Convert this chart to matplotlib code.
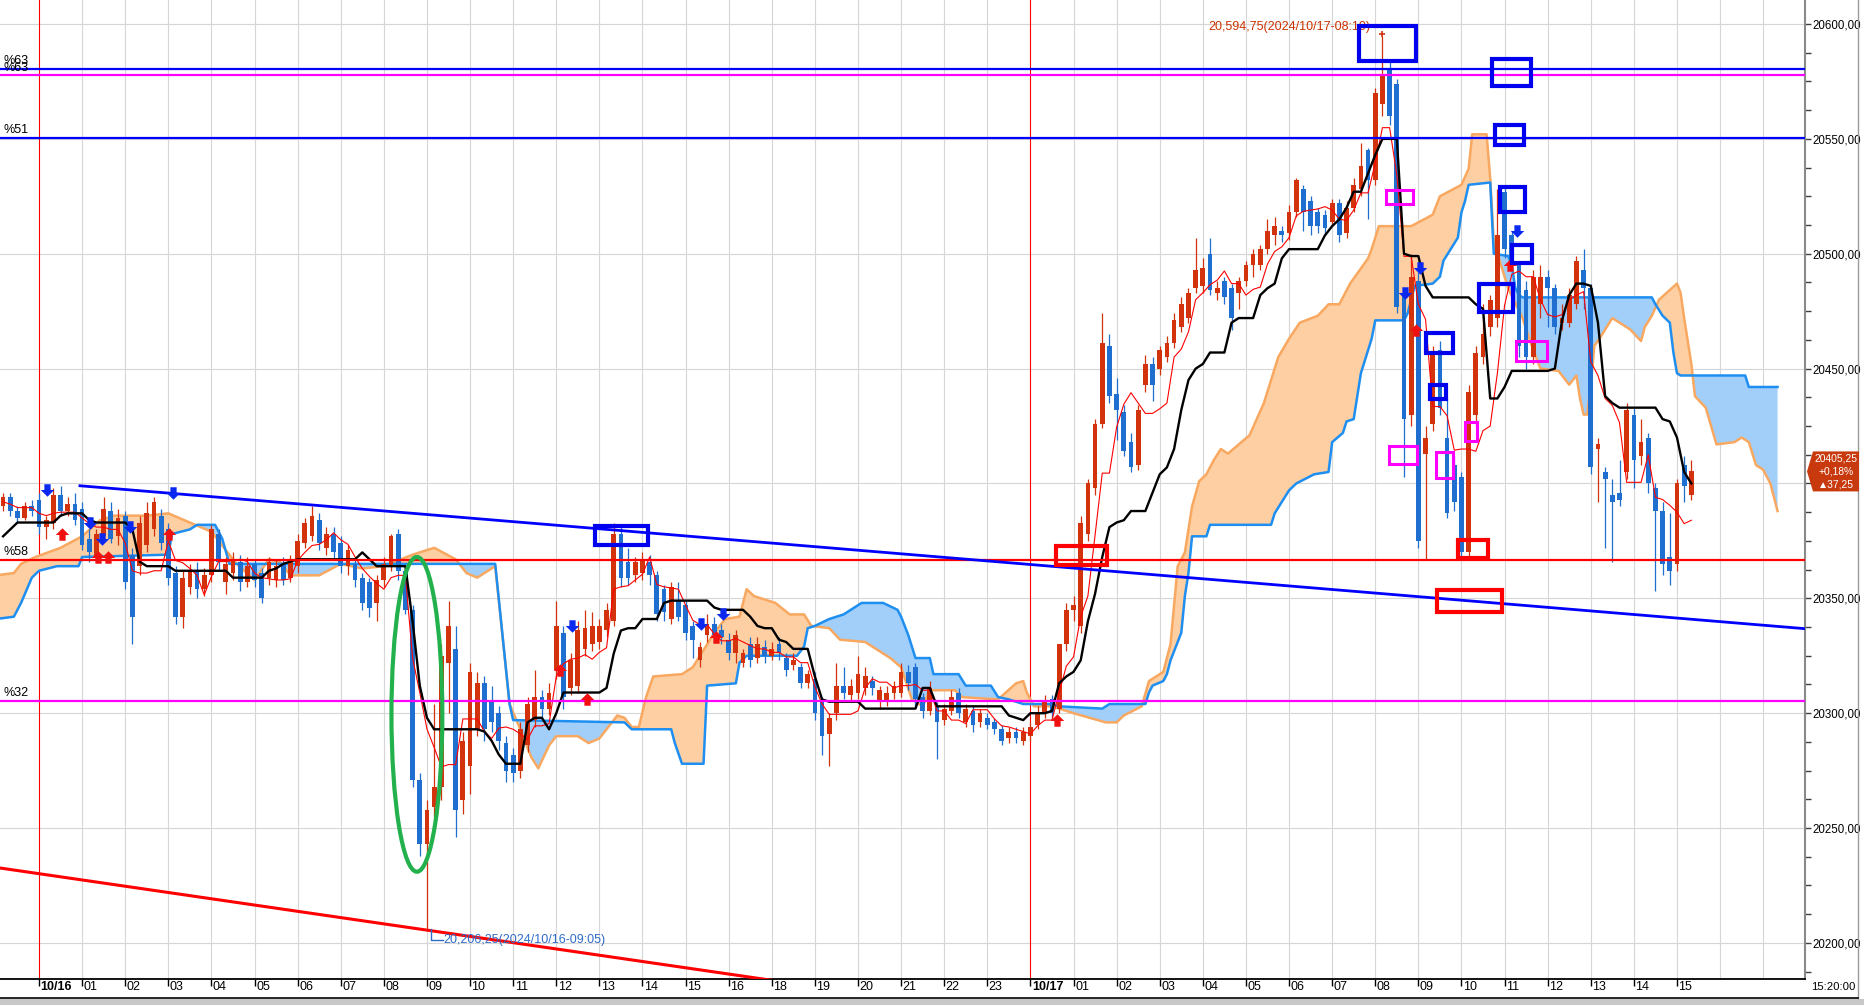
import matplotlib
matplotlib.use('Agg')
import matplotlib.pyplot as plt
from matplotlib.patches import Rectangle, Ellipse, Polygon
from matplotlib.path import Path
import numpy as np
import pandas as pd

plt.rcParams['font.family'] = ['Liberation Sans', 'DejaVu Sans']

# ---------------- data (10-minute bars, 10/15 23:10 .. 10/17 15:20) ----------------
opens = [
    20390, 20394, 20388, 20385, 20390,
    20393, 20381, 20383, 20395, 20388, 20391,
    20389, 20376, 20368, 20377, 20388, 20377,
    20386, 20369, 20364, 20373, 20380, 20386,
    20380, 20361, 20342, 20355, 20362, 20354,
    20360, 20378, 20357, 20361, 20366, 20357,
    20365, 20361, 20359, 20358, 20365, 20359,
    20364, 20374, 20377, 20384, 20372, 20378,
    20374, 20364, 20365, 20359, 20357, 20348,
    20358, 20364, 20378, 20362, 20345, 20271,
    20243, 20259, 20268, 20322, 20328, 20262,
    20277, 20293, 20313, 20305, 20300, 20287,
    20282, 20275, 20286, 20297, 20307, 20302,
    20319, 20335, 20311, 20312, 20328, 20330,
    20331, 20336, 20340, 20378, 20366, 20360,
    20361, 20366, 20360, 20354, 20341, 20349,
    20347, 20338, 20323, 20334, 20339, 20336,
    20332, 20326, 20322, 20330, 20324, 20329,
    20325, 20330, 20324, 20321, 20320, 20313,
    20315, 20305, 20291, 20300, 20312, 20308,
    20309, 20311, 20314, 20305, 20305, 20309,
    20309, 20318, 20320, 20307, 20301, 20303,
    20297, 20301, 20309, 20296, 20301, 20296,
    20298, 20296, 20293, 20289, 20292, 20288,
    20290, 20295, 20300, 20306, 20302, 20330,
    20345, 20338, 20378, 20398, 20426, 20460,
    20439, 20431, 20418, 20408, 20443, 20452,
    20450, 20455, 20461, 20468, 20472, 20485,
    20486, 20500, 20483, 20488, 20485, 20483,
    20488, 20495, 20495, 20502, 20508, 20510,
    20509, 20518, 20528, 20523, 20518, 20517,
    20514, 20522, 20509, 20520, 20528, 20545,
    20532, 20565, 20580, 20574, 20482, 20430,
    20488, 20413, 20426, 20458, 20420, 20408,
    20403, 20370, 20430, 20455, 20468, 20472,
    20527, 20508, 20495, 20484, 20455, 20478,
    20490, 20485, 20470, 20470, 20478, 20493,
    20485, 20415, 20405, 20395, 20396, 20405,
    20430, 20412, 20420, 20398, 20388, 20368,
    20365, 20408, 20395,
]
highs = [
    20396, 20396, 20390, 20392, 20393,
    20396, 20386, 20398, 20399, 20394, 20396,
    20392, 20380, 20380, 20394, 20392, 20389,
    20388, 20372, 20386, 20392, 20394, 20389,
    20383, 20364, 20362, 20365, 20366, 20363,
    20382, 20380, 20368, 20370, 20369, 20368,
    20367, 20363, 20368, 20367, 20368, 20369,
    20378, 20385, 20390, 20387, 20381, 20381,
    20377, 20373, 20367, 20361, 20359, 20360,
    20368, 20378, 20380, 20364, 20347, 20274,
    20262, 20304, 20330, 20349, 20338, 20292,
    20322, 20318, 20316, 20312, 20303, 20290,
    20285, 20296, 20307, 20319, 20310, 20313,
    20349, 20338, 20326, 20340, 20345, 20344,
    20341, 20348, 20383, 20381, 20372, 20368,
    20370, 20369, 20362, 20356, 20357, 20357,
    20349, 20340, 20331, 20343, 20342, 20339,
    20335, 20336, 20328, 20333, 20333, 20332,
    20331, 20333, 20326, 20326, 20322, 20319,
    20318, 20307, 20300, 20322, 20320, 20315,
    20325, 20320, 20316, 20312, 20312, 20314,
    20322, 20321, 20322, 20309, 20314, 20305,
    20304, 20310, 20311, 20304, 20303, 20302,
    20300, 20298, 20295, 20294, 20294, 20294,
    20296, 20303, 20308, 20308, 20330, 20348,
    20351, 20386, 20402, 20428, 20474, 20465,
    20446, 20434, 20422, 20434, 20456, 20455,
    20460, 20464, 20474, 20481, 20485, 20507,
    20498, 20507, 20488, 20490, 20487, 20490,
    20497, 20502, 20504, 20515, 20516, 20512,
    20521, 20533, 20530, 20525, 20520, 20519,
    20524, 20524, 20523, 20533, 20548, 20546,
    20572, 20594.75, 20584, 20576, 20484, 20500,
    20492, 20425, 20460, 20462, 20437, 20412,
    20405, 20443, 20460, 20478, 20482, 20528,
    20530, 20510, 20497, 20488, 20493, 20495,
    20493, 20487, 20478, 20485, 20499, 20502,
    20487, 20420, 20407, 20402, 20410, 20435,
    20433, 20428, 20422, 20400, 20392, 20387,
    20402, 20412, 20410,
]
lows = [
    20388, 20386, 20383, 20384, 20386,
    20378, 20376, 20380, 20386, 20386, 20382,
    20371, 20366, 20366, 20375, 20374, 20373,
    20354, 20330, 20360, 20370, 20377, 20371,
    20356, 20339, 20337, 20352, 20350, 20351,
    20357, 20362, 20352, 20358, 20353, 20355,
    20355, 20348, 20356, 20355, 20356, 20357,
    20361, 20372, 20375, 20371, 20369, 20367,
    20361, 20360, 20355, 20345, 20342, 20340,
    20355, 20362, 20358, 20343, 20268, 20238,
    20206.25, 20255, 20262, 20300, 20246, 20256,
    20265, 20290, 20288, 20292, 20284, 20270,
    20270, 20272, 20283, 20294, 20298, 20299,
    20315, 20302, 20308, 20309, 20325, 20327,
    20328, 20333, 20338, 20355, 20356, 20357,
    20358, 20356, 20340, 20340, 20339, 20340,
    20332, 20324, 20320, 20331, 20331, 20330,
    20323, 20322, 20320, 20320, 20322, 20322,
    20323, 20323, 20316, 20319, 20311, 20311,
    20297, 20282, 20277, 20297, 20306, 20305,
    20306, 20308, 20308, 20302, 20303, 20306,
    20307, 20310, 20303, 20298, 20299, 20280,
    20295, 20299, 20298, 20294, 20292, 20294,
    20293, 20291, 20286, 20287, 20287, 20286,
    20288, 20293, 20298, 20298, 20300, 20327,
    20340, 20335, 20375, 20395, 20424, 20435,
    20419, 20412, 20405, 20406, 20440, 20436,
    20447, 20453, 20459, 20466, 20470, 20483,
    20483, 20482, 20480, 20478, 20467, 20476,
    20486, 20490, 20493, 20500, 20504, 20505,
    20506, 20516, 20510, 20508, 20509, 20508,
    20512, 20505, 20507, 20518, 20525, 20515,
    20530, 20560, 20556, 20474, 20403, 20425,
    20372, 20367, 20423, 20430, 20385, 20388,
    20368, 20368, 20425, 20452, 20464, 20468,
    20498, 20493, 20455, 20450, 20452, 20472,
    20468, 20465, 20467, 20468, 20476, 20476,
    20404, 20392, 20372, 20366, 20390, 20402,
    20398, 20408, 20396, 20353, 20360, 20356,
    20362, 20392, 20393,
]
closes = [
    20394, 20388, 20385, 20390, 20388,
    20381, 20384, 20395, 20388, 20391, 20384,
    20373, 20370, 20378, 20389, 20376, 20385,
    20357, 20342, 20383, 20387, 20392, 20374,
    20359, 20342, 20359, 20362, 20354, 20360,
    20380, 20366, 20365, 20367, 20357, 20364,
    20358, 20350, 20366, 20364, 20358, 20366,
    20375, 20383, 20386, 20374, 20378, 20370,
    20364, 20371, 20358, 20348, 20346, 20358,
    20365, 20377, 20362, 20345, 20271, 20243,
    20258, 20268, 20325, 20338, 20258, 20288,
    20318, 20313, 20293, 20296, 20288, 20275,
    20274, 20293, 20304, 20307, 20302, 20309,
    20338, 20307, 20323, 20336, 20337, 20338,
    20338, 20345, 20378, 20359, 20359, 20366,
    20367, 20360, 20343, 20344, 20355, 20342,
    20335, 20332, 20329, 20339, 20334, 20333,
    20326, 20334, 20326, 20323, 20330, 20325,
    20328, 20326, 20319, 20323, 20313, 20317,
    20300, 20290, 20298, 20312, 20309, 20312,
    20317, 20316, 20311, 20310, 20309, 20312,
    20318, 20313, 20306, 20301, 20311, 20296,
    20302, 20307, 20300, 20302, 20295, 20300,
    20295, 20293, 20288, 20292, 20289, 20292,
    20294, 20300, 20305, 20300, 20330, 20345,
    20347, 20383, 20400, 20426, 20461, 20438,
    20432, 20414, 20407, 20432, 20452, 20443,
    20458, 20461, 20471, 20478, 20483, 20493,
    20494, 20484, 20485, 20481, 20472, 20488,
    20495, 20500, 20502, 20510, 20512, 20508,
    20518, 20532, 20518, 20512, 20512, 20511,
    20522, 20508, 20520, 20530, 20538, 20532,
    20570, 20578, 20560, 20477, 20428, 20490,
    20375, 20420, 20457, 20433, 20387, 20392,
    20370, 20440, 20457, 20465, 20480, 20508,
    20502, 20495, 20460, 20455, 20490, 20490,
    20485, 20468, 20472, 20482, 20497, 20485,
    20407, 20417, 20402, 20392, 20393, 20432,
    20410, 20418, 20400, 20388, 20365, 20362,
    20400, 20399, 20405.25,
]
# kijun-sen (black), same bars
kijun = [
    20377, 20380, 20383, 20383, 20383,
    20383, 20383, 20383, 20386, 20387, 20387,
    20387, 20384, 20383, 20383, 20383, 20383,
    20383, 20380, 20366, 20364, 20364, 20364,
    20364, 20362, 20362, 20362, 20362, 20362,
    20362, 20362, 20362, 20359, 20359, 20359,
    20359, 20359, 20362, 20363, 20365, 20366,
    20367, 20367, 20367, 20367, 20367, 20367,
    20367, 20367, 20367, 20370, 20367, 20364,
    20364, 20364, 20364, 20364, 20340, 20312,
    20298, 20293, 20293, 20293, 20293, 20293,
    20293, 20293, 20292, 20288, 20282, 20278,
    20278, 20278, 20296, 20298, 20298, 20293,
    20300, 20309, 20309, 20309, 20309, 20309,
    20309, 20311, 20326, 20336, 20337, 20337,
    20341, 20341, 20341, 20348, 20349, 20349,
    20349, 20349, 20349, 20349, 20346, 20345,
    20345, 20345, 20345, 20342, 20338, 20337,
    20337, 20332, 20331, 20328, 20328, 20328,
    20316, 20306, 20305, 20305, 20305, 20305,
    20305, 20302, 20302, 20302, 20302, 20302,
    20302, 20302, 20302, 20311, 20311, 20303,
    20303, 20303, 20303, 20303, 20303, 20303,
    20303, 20303, 20303, 20299, 20298, 20297,
    20300, 20300, 20300, 20301, 20313, 20316,
    20318, 20323, 20340, 20352, 20368, 20381,
    20383, 20384, 20388, 20388, 20388, 20396,
    20404, 20407, 20415, 20432, 20445, 20450,
    20452, 20457, 20457, 20457, 20470, 20472,
    20472, 20472, 20482, 20485, 20487, 20498,
    20502, 20502, 20502, 20502, 20502, 20508,
    20512, 20515, 20520, 20527, 20527, 20535,
    20543, 20550, 20550, 20550, 20500, 20499,
    20499, 20486, 20481, 20481, 20481, 20481,
    20481, 20481, 20478, 20476, 20437, 20437,
    20442, 20449, 20449, 20449, 20449, 20449,
    20449, 20450, 20471, 20482, 20487, 20487,
    20486, 20470, 20438, 20435, 20433, 20433,
    20433, 20433, 20433, 20433, 20428, 20427,
    20420, 20405, 20400,
]

# senkou span A (orange edge) and span B (blue edge), already shifted forward
span_a_t = [
    "10/15 23:00", "10/15 23:25", "10/15 23:35", "10/15 23:55", "10/16 00:30", "10/16 01:00",
    "10/16 01:25", "10/16 01:45", "10/16 02:30", "10/16 03:00", "10/16 03:30", "10/16 04:00",
    "10/16 04:20", "10/16 04:35", "10/16 05:00", "10/16 05:20", "10/16 05:35", "10/16 05:50",
    "10/16 06:30", "10/16 07:00", "10/16 07:30", "10/16 08:00", "10/16 08:40", "10/16 09:10",
    "10/16 09:40", "10/16 09:55", "10/16 10:10", "10/16 10:35", "10/16 10:55", "10/16 11:10",
    "10/16 11:25", "10/16 11:35", "10/16 11:50", "10/16 12:00", "10/16 12:30", "10/16 12:45",
    "10/16 13:00", "10/16 13:25", "10/16 13:35", "10/16 13:45", "10/16 13:55", "10/16 14:05",
    "10/16 14:15", "10/16 14:55", "10/16 15:10", "10/16 15:30", "10/16 15:40", "10/16 15:55",
    "10/16 16:15", "10/16 16:25", "10/16 16:35", "10/16 16:55", "10/16 18:05", "10/16 18:25",
    "10/16 18:45", "10/16 18:55", "10/16 19:20", "10/16 19:35", "10/16 20:10", "10/16 20:30",
    "10/16 20:45", "10/16 21:00", "10/16 21:15", "10/16 21:30", "10/16 21:40", "10/16 22:15",
    "10/16 22:25", "10/16 23:15", "10/16 23:40", "10/16 23:50", "10/16 23:55", "10/17 00:05",
    "10/17 00:30", "10/17 01:00", "10/17 01:45", "10/17 02:00", "10/17 02:10", "10/17 02:35",
    "10/17 02:45", "10/17 03:05", "10/17 03:15", "10/17 03:25", "10/17 03:35", "10/17 03:45",
    "10/17 03:55", "10/17 04:05", "10/17 04:15", "10/17 04:25", "10/17 04:35", "10/17 04:50",
    "10/17 05:05", "10/17 05:25", "10/17 05:45", "10/17 06:00", "10/17 06:15", "10/17 06:40",
    "10/17 06:55", "10/17 07:10", "10/17 07:25", "10/17 07:50", "10/17 07:55", "10/17 08:05",
    "10/17 08:50", "10/17 09:20", "10/17 09:30", "10/17 10:00", "10/17 10:10", "10/17 10:15",
    "10/17 10:35", "10/17 10:40", "10/17 10:45", "10/17 11:05", "10/17 11:25", "10/17 11:40",
    "10/17 11:50", "10/17 12:15", "10/17 12:30", "10/17 12:40", "10/17 12:45", "10/17 12:50",
    "10/17 12:55", "10/17 13:00", "10/17 13:05", "10/17 13:10", "10/17 13:20", "10/17 13:30",
    "10/17 13:55", "10/17 14:10", "10/17 14:15", "10/17 14:25", "10/17 14:35", "10/17 15:00",
    "10/17 15:05", "10/17 15:10", "10/17 15:20", "10/17 15:25", "10/17 15:40", "10/17 15:55",
    "10/17 16:20", "10/17 16:30", "10/17 16:40", "10/17 16:50", "10/17 17:00", "10/17 17:10",
    "10/17 17:20",
]
span_a_v = [
    20360, 20361, 20365, 20368, 20372, 20377,
    20384, 20386, 20386, 20387, 20383, 20379,
    20371, 20365, 20358, 20367, 20366, 20360,
    20360, 20365, 20363, 20364, 20369, 20372,
    20367, 20361, 20359, 20364, 20304, 20293,
    20281, 20276, 20286, 20290, 20290, 20287,
    20289, 20299, 20298, 20294, 20294, 20307,
    20316, 20317, 20320, 20330, 20335, 20341,
    20342, 20354, 20351, 20349, 20348, 20343,
    20343, 20338, 20337, 20332, 20331, 20327,
    20324, 20320, 20306, 20303, 20310, 20310,
    20307, 20306, 20313, 20314, 20309, 20303,
    20303, 20300, 20296, 20296, 20299, 20303,
    20314, 20318, 20330, 20364, 20370, 20390,
    20401, 20404, 20410, 20415, 20413, 20417,
    20421, 20435, 20455, 20463, 20470, 20473,
    20478, 20478, 20487, 20498, 20502, 20512,
    20512, 20517, 20525, 20530, 20537, 20552,
    20552, 20533, 20505, 20485, 20472, 20458,
    20450, 20449, 20443, 20447, 20437, 20430,
    20430, 20443, 20460, 20462, 20467, 20472,
    20467, 20462, 20468, 20473, 20480, 20487,
    20483, 20472, 20452, 20438, 20433, 20417,
    20418, 20420, 20418, 20408, 20406, 20400,
    20388,
]
span_b_t = [
    "10/15 23:00", "10/15 23:25", "10/15 23:35", "10/15 23:50", "10/16 00:00", "10/16 00:25",
    "10/16 00:55", "10/16 01:00", "10/16 03:00", "10/16 03:05", "10/16 03:30", "10/16 03:40",
    "10/16 04:05", "10/16 04:15", "10/16 04:25", "10/16 10:35", "10/16 10:55", "10/16 11:00",
    "10/16 13:35", "10/16 13:45", "10/16 14:40", "10/16 14:45", "10/16 14:55", "10/16 15:25",
    "10/16 15:30", "10/16 16:10", "10/16 16:15", "10/16 16:25", "10/16 18:35", "10/16 18:45",
    "10/16 18:50", "10/16 19:00", "10/16 19:20", "10/16 19:40", "10/16 20:05", "10/16 20:35",
    "10/16 20:55", "10/16 21:00", "10/16 21:10", "10/16 21:20", "10/16 21:40", "10/16 21:45",
    "10/16 22:20", "10/16 22:30", "10/16 23:05", "10/16 23:15", "10/16 23:30", "10/16 23:50",
    "10/17 00:30", "10/17 00:40", "10/17 01:40", "10/17 01:50", "10/17 02:40", "10/17 02:45",
    "10/17 02:50", "10/17 03:05", "10/17 03:10", "10/17 03:15", "10/17 03:30", "10/17 03:35",
    "10/17 03:40", "10/17 03:45", "10/17 04:05", "10/17 04:10", "10/17 05:35", "10/17 05:40",
    "10/17 06:00", "10/17 06:10", "10/17 06:35", "10/17 06:55", "10/17 07:00", "10/17 07:15",
    "10/17 07:20", "10/17 07:30", "10/17 07:35", "10/17 07:40", "10/17 07:50", "10/17 07:55",
    "10/17 08:00", "10/17 08:40", "10/17 08:45", "10/17 08:55", "10/17 09:20", "10/17 09:30",
    "10/17 09:35", "10/17 09:45", "10/17 09:55", "10/17 10:00", "10/17 10:05", "10/17 10:10",
    "10/17 10:40", "10/17 10:45", "10/17 11:05", "10/17 11:10", "10/17 11:15", "10/17 11:20",
    "10/17 11:25", "10/17 14:25", "10/17 14:30", "10/17 14:40", "10/17 14:50", "10/17 14:55",
    "10/17 15:00", "10/17 15:05", "10/17 16:35", "10/17 16:40", "10/17 17:20",
]
span_b_v = [
    20341, 20342, 20348, 20359, 20362, 20364,
    20364, 20368, 20369, 20378, 20380, 20382,
    20382, 20376, 20365, 20365, 20304, 20297,
    20296, 20293, 20293, 20287, 20278, 20278,
    20312, 20313, 20322, 20325, 20325, 20329,
    20337, 20338, 20341, 20343, 20348, 20348,
    20345, 20342, 20334, 20324, 20324, 20317,
    20317, 20312, 20312, 20307, 20306, 20304,
    20304, 20303, 20302, 20304, 20304, 20309,
    20312, 20314, 20317, 20323, 20335, 20351,
    20361, 20377, 20377, 20382, 20382, 20387,
    20397, 20400, 20404, 20405, 20418, 20422,
    20427, 20428, 20438, 20448, 20458, 20463,
    20471, 20471, 20474, 20486, 20487, 20490,
    20497, 20502, 20507, 20518, 20523, 20530,
    20531, 20500, 20499, 20495, 20485, 20482,
    20481, 20481, 20478, 20473, 20470, 20457,
    20448, 20447, 20447, 20442, 20442,
]

# horizontal levels and the tails of their labels visible at the left edge
level_vals = [20580.63, 20577.63, 20550.51, 20366.58, 20305.32]
level_cols = ['#0000FF', '#FF00FF', '#0000FF', '#FF0000', '#FF00FF']
level_tags = ['%63', '%63', '%51', '%58', '%32']

# trend lines (time, price)
blue_trend = [("10/16 00:57", 20399.0), ("10/17 17:58", 20336.8)]
red_trend = [("10/15 23:06", 20232.6), ("10/16 19:00", 20181.0)]

# signal arrows
sell_t = ["10/16 00:11", "10/16 01:11", "10/16 01:28", "10/16 02:07", "10/16 03:07", "10/16 12:22",
          "10/16 15:22", "10/16 15:52", "10/17 08:41", "10/17 09:02", "10/17 11:17"]
sell_p = [20397, 20383, 20376, 20381, 20396, 20338, 20339, 20343, 20483, 20494, 20510]
buy_t = ["10/16 00:32", "10/16 01:22", "10/16 01:36", "10/16 03:01", "10/16 12:05", "10/16 12:43",
         "10/16 15:43", "10/17 00:37", "10/17 08:57", "10/17 11:08"]
buy_p = [20378, 20368, 20368, 20378, 20319, 20306, 20333, 20297, 20467, 20495]

# drawn boxes: (start, end, low, high)
blue_boxes = [("10/17 07:38", "10/17 08:57", 20584.0, 20599.0),
              ("10/17 10:43", "10/17 11:37", 20573.0, 20584.8),
              ("10/17 10:46", "10/17 11:27", 20547.4, 20556.0),
              ("10/17 10:54", "10/17 11:29", 20518.0, 20529.0),
              ("10/17 11:11", "10/17 11:38", 20496.0, 20504.0),
              ("10/17 10:24", "10/17 11:12", 20474.7, 20486.8),
              ("10/17 09:11", "10/17 09:48", 20456.8, 20465.5),
              ("10/17 09:16", "10/17 09:38", 20436.8, 20442.9),
              ("10/16 12:54", "10/16 14:08", 20373.3, 20381.5)]
pink_boxes = [("10/17 08:15", "10/17 08:53", 20521.7, 20527.7),
              ("10/17 08:19", "10/17 08:58", 20408.5, 20416.3),
              ("10/17 09:25", "10/17 09:48", 20402.4, 20413.7),
              ("10/17 10:05", "10/17 10:22", 20418.5, 20426.8),
              ("10/17 11:16", "10/17 11:59", 20453.3, 20462.0)]
red_boxes = [("10/17 00:36", "10/17 01:47", 20364.5, 20372.8),
             ("10/17 09:55", "10/17 10:37", 20367.6, 20375.4),
             ("10/17 09:26", "10/17 10:56", 20344.1, 20353.6)]

hour_labels = ['10/16', '01', '02', '03', '04', '05', '06', '07', '08', '09', '10', '11', '12',
               '13', '14', '15', '16', '18', '19', '20', '21', '22', '23', '10/17', '01', '02',
               '03', '04', '05', '06', '07', '08', '09', '10', '11', '12', '13', '14', '15']

high_time, high_price = "10/17 08:10", 20594.75
low_time, low_price = "10/16 09:05", 20206.25
last_price, pct, chg = 20405.25, 0.18, 37.25


# ---------------- helpers ----------------
def to_slot(t):
    # hour slots on the chart axis; 10/16 17:00-17:59 has no bars
    d, hm = t.split()
    day = int(d.split('/')[1])
    h, m = hm.split(':')
    hrs = int(h) + int(m) / 60
    if day == 15:
        return hrs - 24
    if day == 16:
        return hrs - 1 if int(h) >= 18 else hrs
    return hrs + 23


def jp(v):
    return f"{v:.2f}".replace('.', ',')


times = pd.date_range('2024-10-15 23:10', '2024-10-17 15:20', freq='10min')
times = times[~((times.day == 16) & (times.hour == 17))]
x = np.array([to_slot(t.strftime('%m/%d %H:%M')) for t in times])

o = np.array(opens, float)
hi = np.array(highs, float)
lo = np.array(lows, float)
c = np.array(closes, float)

tenkan = (pd.Series(hi).rolling(5, min_periods=1).max() +
          pd.Series(lo).rolling(5, min_periods=1).min()) / 2

W, H = 1865, 1005
fig = plt.figure(figsize=(W / 100, H / 100), dpi=100)
ax = fig.add_axes([0, 26 / H, 1805 / W, 979 / H])
ax.set_xlim(-0.905, 40.97)
ax.set_ylim(20184.3, 20610.45)

RED = '#D2330C'
BLUE = '#1F6FD0'

# grid
for s in range(1, 41):
    if s != 23:
        ax.axvline(s, color='#D6D6D6', lw=0.8, zorder=0)
for yv in range(20200, 20601, 50):
    ax.axhline(yv, color='#D6D6D6', lw=0.8, zorder=0)
ax.axvline(0, color='#FF0000', lw=0.8, zorder=1)
ax.axvline(23, color='#FF0000', lw=0.8, zorder=1)

# cloud
xa = np.array([to_slot(t) for t in span_a_t])
xb = np.array([to_slot(t) for t in span_b_t])
xs = np.union1d(xa, xb)
ya = np.interp(xs, xa, span_a_v)
yb = np.interp(xs, xb, span_b_v)
ax.fill_between(xs, ya, yb, where=ya >= yb, interpolate=True, color='#FDCFA2', lw=0, zorder=1)
ax.fill_between(xs, ya, yb, where=ya < yb, interpolate=True, color='#A2CFFA', lw=0, zorder=1)
ax.plot(xa, span_a_v, color='#F8A860', lw=1.8, zorder=2)
ax.plot(xb, span_b_v, color='#1E8FF0', lw=1.8, zorder=2)

# candles
col = np.where(c >= o, RED, BLUE)
ax.vlines(x, lo, hi, colors=col, lw=0.9, zorder=4)
ax.bar(x, np.maximum(np.abs(c - o), 0.6), bottom=np.minimum(o, c), width=0.11,
       color=col, lw=0, zorder=5)

ax.plot(x, tenkan, color='#FF0000', lw=0.8, zorder=6)
ax.plot(x, kijun, color='black', lw=1.7, zorder=6)

# levels and trend lines
for v, cl in zip(level_vals, level_cols):
    ax.axhline(v, color=cl, lw=1.6, zorder=7)
ax.plot([to_slot(t) for t, _ in blue_trend], [p for _, p in blue_trend],
        color='#0000FF', lw=2.0, zorder=7)
ax.plot([to_slot(t) for t, _ in red_trend], [p for _, p in red_trend],
        color='#FF0000', lw=2.2, zorder=7)

# boxes
for boxes, ec, lw in [(blue_boxes, '#0000EE', 3.0), (pink_boxes, '#FF00FF', 2.2), (red_boxes, '#FF0000', 3.0)]:
    for t0, t1, p0, p1 in boxes:
        s0, s1 = to_slot(t0), to_slot(t1)
        ax.add_patch(Rectangle((s0, p0), s1 - s0, p1 - p0, fill=False, ec=ec, lw=lw, zorder=10))
ax.add_patch(Ellipse((to_slot("10/16 08:46"), 20299.5), 1.18, 137, fill=False,
                     ec='#22B14C', lw=3.0, zorder=10))

# arrows
verts = [(-0.3, 0.6), (0.3, 0.6), (0.3, 0.05), (0.65, 0.05), (0, -0.6), (-0.65, 0.05), (-0.3, 0.05), (-0.3, 0.6)]
codes = [Path.MOVETO] + [Path.LINETO] * 6 + [Path.CLOSEPOLY]
down_arrow = Path(verts, codes)
up_arrow = Path([(vx, -vy) for vx, vy in verts], codes)
ax.scatter([to_slot(t) for t in sell_t], sell_p, marker=down_arrow, s=95, color='#0A28F0', lw=0, zorder=9)
ax.scatter([to_slot(t) for t in buy_t], buy_p, marker=up_arrow, s=95, color='#F01010', lw=0, zorder=9)

# high / low annotations
hs = to_slot(high_time)
ax.plot([hs], [high_price + 0.8], marker='+', color='#D2330C', ms=5, mew=1.2, zorder=9)
ax.text(hs - 0.28, high_price + 3.9, f"{high_price:,.2f}".replace('.', ',') + "(2024/" + high_time.replace(' ', '-') + ")",
        ha='right', va='center', color='#CC3300', fontsize=9, zorder=8)
ls = to_slot(low_time)
ax.plot([ls, ls, ls + 0.28], [low_price, low_price - 5, low_price - 5], color='#2F6CC8', lw=1.0, zorder=9)
ax.text(ls + 0.3, low_price - 5, f"{low_price:,.2f}".replace('.', ',') + "(2024/" + low_time.replace(' ', '-') + ")",
        ha='left', va='center', color='#2F6CC8', fontsize=9, zorder=9)

# level labels at the left edge
for v, tag in zip(level_vals, level_tags):
    ax.text(0.002, v + 0.8, tag, transform=ax.get_yaxis_transform(), ha='left', va='bottom',
            fontsize=9, color='black', zorder=11)

# axes styling
for sp in ['top', 'left']:
    ax.spines[sp].set_visible(False)
ax.spines['right'].set_color('#8A8A8A')
ax.spines['right'].set_linewidth(1.5)
ax.spines['bottom'].set_color('black')
ax.spines['bottom'].set_linewidth(1.3)
ax.yaxis.tick_right()
ax.set_yticks(np.arange(20200, 20601, 50))
ax.set_yticks(np.arange(20187.5, 20610, 12.5), minor=True)
# the 20400 label sits under the last-price badge
ax.yaxis.set_major_formatter(plt.FuncFormatter(
    lambda v, p: '' if abs(v - last_price) < 10 else jp(v)))
ax.tick_params(axis='y', which='both', length=4, width=1, color='#404040', pad=1.2,
               labelsize=8.3, direction='out', left=False)
ax.set_xticks(range(0, 39))
ax.tick_params(axis='x', length=5, width=1, color='black', labelbottom=False, direction='out')

# x labels
for s, lab in enumerate(hour_labels):
    xd = ax.transData.transform((s, 20300))[0]
    fig.text((xd + 1.5) / W, 1 - 987 / H, lab, ha='left', va='center', fontsize=9,
             fontweight='bold' if '/' in lab else 'normal')
fig.text(1811 / W, 1 - 987 / H, "15:20:00", ha='left', va='center', fontsize=8.2)

# last price badge
yd = ax.transData.transform((0, last_price))[1]
yc = H - yd
pts = [(1807, yc), (1813, yc - 20), (1859, yc - 20), (1859, yc + 20), (1813, yc + 20)]
fig.add_artist(Polygon([(px / W, 1 - py / H) for px, py in pts], closed=True, fc='#C83A0E',
                       ec='none', transform=fig.transFigure, zorder=20))
for dy, txt in [(-13, jp(last_price)), (0, "+" + jp(pct) + "%"), (13, "\u25b2" + jp(chg))]:
    fig.text(1836 / W, 1 - (yc + dy) / H, txt, ha='center', va='center', color='white',
             fontsize=7.4, zorder=21)

# frame bits of the trading window
fig.add_artist(plt.Line2D([1858 / W, 1858 / W], [1 - 998 / H, 1], color='#9A9A9A', lw=1,
                          transform=fig.transFigure))
fig.add_artist(plt.Line2D([0, 1858 / W], [1 - 998 / H, 1 - 998 / H], color='black', lw=1.2,
                          transform=fig.transFigure))
fig.add_artist(Rectangle((0, 0), 1, 6 / H, fc='#C8C8C8', ec='none', transform=fig.transFigure))

fig.savefig('out.png', dpi=100)
